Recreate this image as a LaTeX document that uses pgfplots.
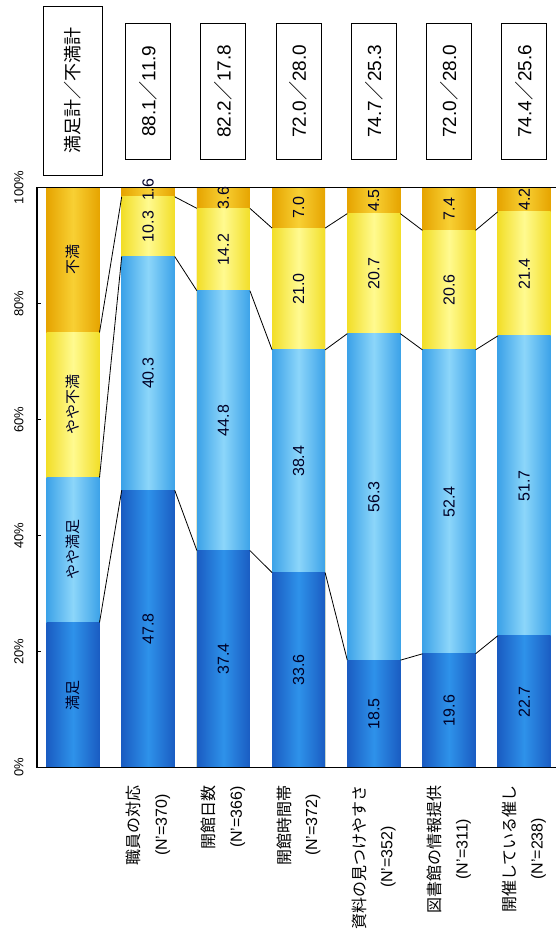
\documentclass[border=0pt]{standalone}
\usepackage{fontspec}
\setmainfont{Liberation Sans}
\newfontfamily\jp{Noto Sans CJK JP}
\usepackage{pgfplots}
\pgfplotsset{compat=1.18}
\definecolor{c1d}{HTML}{1A5CC2}\definecolor{c1l}{HTML}{2E92EA}
\definecolor{c2d}{HTML}{3CA2E8}\definecolor{c2l}{HTML}{8CD6FA}
\definecolor{c3d}{HTML}{F2DE28}\definecolor{c3l}{HTML}{FFFA90}
\definecolor{c4d}{HTML}{E6A400}\definecolor{c4l}{HTML}{F8D034}
% one bar from 0 up to a cumulative share, shaded like a cylinder
\newcommand\segbar[4]{\addplot[ybar, bar width=0.705, bar shift=0pt, draw=none, left color=#3, right color=#3, middle color=#4, forget plot] coordinates {(#1,#2)};}
\begin{document}
\begin{tikzpicture}
\path[use as bounding box] (-37pt,-165.5pt) rectangle (519pt,767.5pt);
\begin{axis}[scale only axis, width=519pt, height=580pt,
  xmin=-0.479, xmax=6.423, ymin=0, ymax=100, clip=false,
  axis line style={draw=none},
  xtick={1,...,6},
  xticklabels={{\jp 職員の対応}\\(N'=370),{\jp 開館日数}\\(N'=366),{\jp 開館時間帯}\\(N'=372),{\jp 資料の見つけやすさ}\\(N'=352),{\jp 図書館の情報提供}\\(N'=311),{\jp 開催している催し}\\(N'=238)},
  x tick style={draw=none},
  xticklabel style={rotate=90, anchor=east, align=center, font=\fontsize{16}{27}\selectfont},
  xticklabel shift=14pt,
  ytick={0,20,...,100}, ytick pos=left,
  yticklabel={\pgfmathprintnumber{\tick}\%},
  /pgf/number format/assume math mode=true,
  y tick style={black, line width=0.8pt}, major tick length=4pt,
  yticklabel style={rotate=90, anchor=south, font=\fontsize{13}{15}\selectfont},
  yticklabel shift=10pt]
% cumulative tops: 不満 (100), やや不満, やや満足, 満足
\segbar{0}{100}{c4d}{c4l}\segbar{1}{100}{c4d}{c4l}\segbar{2}{100}{c4d}{c4l}\segbar{3}{100}{c4d}{c4l}\segbar{4}{100}{c4d}{c4l}\segbar{5}{100}{c4d}{c4l}\segbar{6}{100}{c4d}{c4l}
\segbar{0}{75}{c3d}{c3l}\segbar{1}{98.4}{c3d}{c3l}\segbar{2}{96.4}{c3d}{c3l}\segbar{3}{93.0}{c3d}{c3l}\segbar{4}{95.5}{c3d}{c3l}\segbar{5}{92.6}{c3d}{c3l}\segbar{6}{95.8}{c3d}{c3l}
\segbar{0}{50}{c2d}{c2l}\segbar{1}{88.1}{c2d}{c2l}\segbar{2}{82.2}{c2d}{c2l}\segbar{3}{72.0}{c2d}{c2l}\segbar{4}{74.8}{c2d}{c2l}\segbar{5}{72.0}{c2d}{c2l}\segbar{6}{74.4}{c2d}{c2l}
\segbar{0}{25}{c1d}{c1l}\segbar{1}{47.8}{c1d}{c1l}\segbar{2}{37.4}{c1d}{c1l}\segbar{3}{33.6}{c1d}{c1l}\segbar{4}{18.5}{c1d}{c1l}\segbar{5}{19.6}{c1d}{c1l}\segbar{6}{22.7}{c1d}{c1l}
% connecting lines
\addplot[black, line width=0.8pt, mark=none, unbounded coords=jump] coordinates {
(0.3525,25) (0.6475,47.8) (0.5,nan)
(1.3525,47.8) (1.6475,37.4) (1.5,nan)
(2.3525,37.4) (2.6475,33.6) (2.5,nan)
(3.3525,33.6) (3.6475,18.5) (3.5,nan)
(4.3525,18.5) (4.6475,19.6) (4.5,nan)
(5.3525,19.6) (5.6475,22.7)};
\addplot[black, line width=0.8pt, mark=none, unbounded coords=jump] coordinates {
(0.3525,50) (0.6475,88.1) (0.5,nan)
(1.3525,88.1) (1.6475,82.2) (1.5,nan)
(2.3525,82.2) (2.6475,72.0) (2.5,nan)
(3.3525,72.0) (3.6475,74.8) (3.5,nan)
(4.3525,74.8) (4.6475,72.0) (4.5,nan)
(5.3525,72.0) (5.6475,74.4)};
\addplot[black, line width=0.8pt, mark=none, unbounded coords=jump] coordinates {
(0.3525,75) (0.6475,98.4) (0.5,nan)
(1.3525,98.4) (1.6475,96.4) (1.5,nan)
(2.3525,96.4) (2.6475,93.0) (2.5,nan)
(3.3525,93.0) (3.6475,95.5) (3.5,nan)
(4.3525,95.5) (4.6475,92.6) (4.5,nan)
(5.3525,92.6) (5.6475,95.8)};
% value labels
\addplot[draw=none, mark=none, nodes near coords, point meta=explicit symbolic,
  nodes near coords align={center},
  every node near coord/.append style={rotate=90, anchor=center, inner sep=0pt, text=black!85!blue, font=\fontsize{16}{18}\selectfont}] coordinates {
(1,23.9)[47.8] (1,67.95)[40.3] (1,93.25)[10.3] (1,99.6)[1.6]
(2,18.7)[37.4] (2,59.8)[44.8] (2,89.3)[14.2] (2,98.2)[3.6]
(3,16.8)[33.6] (3,52.8)[38.4] (3,82.5)[21.0] (3,96.5)[7.0]
(4,9.25)[18.5] (4,46.65)[56.3] (4,85.15)[20.7] (4,97.75)[4.5]
(5,9.8)[19.6] (5,45.8)[52.4] (5,82.3)[20.6] (5,96.3)[7.4]
(6,11.35)[22.7] (6,48.55)[51.7] (6,85.1)[21.4] (6,97.9)[4.2]};
% legend bar labels
\addplot[draw=none, mark=none, nodes near coords, point meta=explicit symbolic,
  nodes near coords align={center},
  every node near coord/.append style={rotate=90, anchor=center, inner sep=0pt, text=black!85!blue, font=\jp\fontsize{15}{17}\selectfont}] coordinates {
(0,12.5)[満足] (0,37.5)[やや満足] (0,62.5)[やや不満] (0,87.5)[不満]};
% boxes
\addplot[draw=none, mark=none, nodes near coords, point meta=explicit symbolic,
  nodes near coords align={center},
  every node near coord/.append style={rotate=90, anchor=center, draw=black, line width=1pt, fill=white, minimum width=136pt, minimum height=45pt, inner sep=0pt, text=black, font=\fontsize{19}{21}\selectfont}] coordinates {
(1,116.6)[88.1{\jp ／}11.9] (2,116.6)[82.2{\jp ／}17.8] (3,116.6)[72.0{\jp ／}28.0]
(4,116.6)[74.7{\jp ／}25.3] (5,116.6)[72.0{\jp ／}28.0] (6,116.6)[74.4{\jp ／}25.6]};
\addplot[draw=none, mark=none, nodes near coords, point meta=explicit symbolic,
  nodes near coords align={center},
  every node near coord/.append style={rotate=90, anchor=center, draw=black, line width=1pt, fill=white, minimum width=169pt, minimum height=59pt, inner sep=0pt, text=black, font=\jp\fontsize{18}{20}\selectfont}] coordinates {
(0,116.7)[満足計／不満計]};
\draw[black, line width=1.6pt] (axis cs:-0.479,100) -- (axis cs:6.423,100);
\draw[black, line width=1.6pt] (axis cs:6.423,0) -- (axis cs:-0.479,0) -- (axis cs:-0.479,100);
\end{axis}
\end{tikzpicture}
\end{document}
